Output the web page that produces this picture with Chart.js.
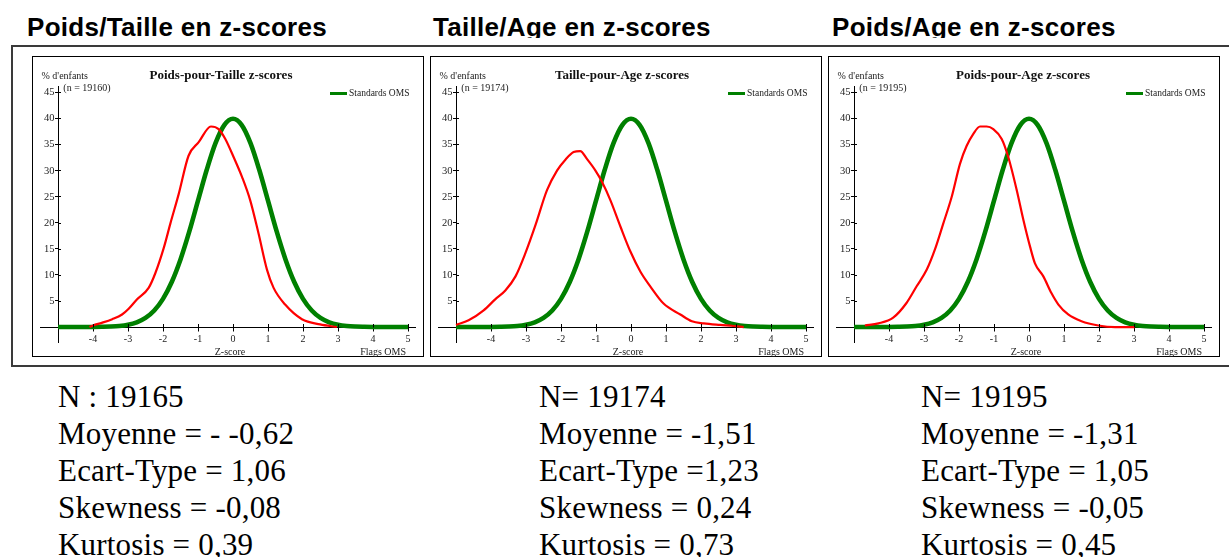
<!DOCTYPE html>
<html lang="fr">
<head>
<meta charset="utf-8">
<script src="https://cdn.jsdelivr.net/npm/chart.js@4.4.1/dist/chart.umd.min.js"></script>
<style>
  html, body { margin: 0; padding: 0; background: #fff; }
  body { width: 1229px; height: 557px; position: relative; overflow: hidden; }
  .hdr-clip { position: absolute; left: 0; top: 0; width: 1229px; height: 38px; overflow: hidden; }
  .hdr { position: absolute; top: 12px; font: bold 26px/30px "Liberation Sans", Arial, sans-serif; letter-spacing: 0.3px; color: #000; white-space: nowrap; }
  .frame { position: absolute; left: 11px; top: 45px; width: 1240px; height: 322px; border: 2px solid #3a3a3a; box-sizing: border-box; }
  .panel { position: absolute; top: 56px; width: 392px; height: 301px; border: 1px solid #000; box-sizing: border-box; background: #fff; }
  .panel canvas { position: absolute; left: 0; top: 0; }
  .lbl { position: absolute; font-family: "Liberation Serif", "Times New Roman", serif; color: #222; white-space: nowrap; line-height: 1; }
  .ttl { font-weight: bold; font-size: 13px; color: #111; transform: translate(-50%, -50%); }
  .sm { font-size: 10px; transform: translateY(-50%); }
  .leg { font-size: 9.5px; }
  .legline { position: absolute; height: 3px; width: 17px; background: #008000; }
  .stats { position: absolute; top: 378px; font: 31px/37px "Liberation Serif", "Times New Roman", serif; letter-spacing: 0.2px; color: #000; white-space: nowrap; }
</style>
</head>
<body>
<div class="hdr-clip" id="hdrs"></div>
<div class="frame"></div>
<div id="panels"></div>
<div id="statsBox"></div>
<script>
// ---------------- DATA ----------------
const headers = ["Poids/Taille en z-scores", "Taille/Age en z-scores", "Poids/Age en z-scores"];
const chartTitles = ["Poids-pour-Taille z-scores", "Taille-pour-Age z-scores", "Poids-pour-Age z-scores"];
const sampleLabels = ["(n = 19160)", "(n = 19174)", "(n = 19195)"];
const yAxisCaption = "% d'enfants";
const xAxisCaption = "Z-score";
const flagsCaption = "Flags OMS";
const standardLabel = "Standards OMS";

const xTickValues = [-4, -3, -2, -1, 0, 1, 2, 3, 4, 5];
const yTickValues = [5, 10, 15, 20, 25, 30, 35, 40, 45];

// WHO standard curve (% of children)
const stdX = [-5, -4.75, -4.5, -4.25, -4, -3.75, -3.5, -3.25, -3, -2.75, -2.5, -2.25, -2, -1.75, -1.5, -1.25, -1, -0.75, -0.5, -0.25,
              0, 0.25, 0.5, 0.75, 1, 1.25, 1.5, 1.75, 2, 2.25, 2.5, 2.75, 3, 3.25, 3.5, 3.75, 4, 4.25, 4.5, 4.75, 5];
const stdY = [0, 0, 0, 0, 0.01, 0.04, 0.09, 0.2, 0.44, 0.91, 1.75, 3.17, 5.4, 8.63, 12.95, 18.26, 24.2, 30.11, 35.21, 38.67,
              39.89, 38.67, 35.21, 30.11, 24.2, 18.26, 12.95, 8.63, 5.4, 3.17, 1.75, 0.91, 0.44, 0.2, 0.09, 0.04, 0.01, 0, 0, 0, 0];

// Observed distributions
const poidsTailleX = [-4.1, -4.0, -3.75, -3.45, -3.17, -2.98, -2.74, -2.41, -2.22, -1.98, -1.79, -1.55, -1.27, -0.98, -0.63, -0.41, -0.22,
                      0.02, 0.26, 0.49, 0.73, 0.97, 1.16, 1.49, 1.97, 2.49, 2.97];
const poidsTailleY = [0, 0.3, 0.8, 1.5, 2.4, 3.5, 5.3, 7.5, 10.3, 15.1, 19.8, 25.5, 32.8, 35.4, 38.4, 37.9, 36.0,
                      32.5, 28.7, 24.3, 17.9, 11.0, 7.5, 4.3, 1.5, 0.5, 0];

const tailleAgeX = [-5.0, -4.64, -4.21, -3.88, -3.59, -3.30, -3.02, -2.73, -2.40, -2.11, -1.88, -1.64, -1.45, -1.26, -1.02, -0.83, -0.59,
                    -0.30, -0.02, 0.27, 0.55, 0.93, 1.41, 1.74, 2.08, 2.55, 2.93, 3.22];
const tailleAgeY = [0.4, 1.3, 3.2, 5.3, 7.0, 9.7, 14.1, 19.5, 26.2, 30.0, 32.0, 33.5, 33.7, 32.2, 30.0, 27.8, 24.3,
                    19.2, 14.5, 10.6, 7.8, 4.5, 2.4, 1.1, 0.7, 0.4, 0.2, 0];

const poidsAgeX = [-4.69, -4.30, -3.88, -3.50, -3.21, -2.92, -2.69, -2.45, -2.21, -1.97, -1.78, -1.59, -1.40, -1.21, -1.02, -0.78, -0.59,
                   -0.35, -0.16, 0.03, 0.17, 0.41, 0.64, 0.84, 1.12, 1.50, 1.98, 2.46, 3.03];
const poidsAgeY = [0.3, 0.7, 1.8, 4.6, 7.8, 11.0, 14.8, 19.8, 24.9, 31.3, 34.7, 37.0, 38.4, 38.4, 37.9, 36.0, 32.5,
                   26.2, 20.5, 15.4, 12.2, 9.7, 6.5, 4.3, 2.4, 1.1, 0.3, 0, 0];

const statsCol1 = ["N : 19165", "Moyenne = - -0,62", "Ecart-Type = 1,06", "Skewness = -0,08", "Kurtosis = 0,39"];
const statsCol2 = ["N= 19174", "Moyenne = -1,51", "Ecart-Type =1,23", "Skewness = 0,24", "Kurtosis = 0,73"];
const statsCol3 = ["N= 19195", "Moyenne = -1,31", "Ecart-Type = 1,05", "Skewness = -0,05", "Kurtosis = 0,45"];

// ---------------- LAYOUT ----------------
const observedX = [poidsTailleX, tailleAgeX, poidsAgeX];
const observedY = [poidsTailleY, tailleAgeY, poidsAgeY];
const statsCols = [statsCol1, statsCol2, statsCol3];
const headerLeft = [27, 433, 832];
const panelLeft = [32, 430, 828];
const titleCenter = [188, 191, 194];
const statsLeft = [58, 539, 921];

const pairs = (xs, ys) => xs.map((x, i) => ({ x: x, y: ys[i] }));
const SERIF = "'Liberation Serif', 'Times New Roman', serif";

// tick marks crossing the axes + y tick labels left of the axis drawn at x = -5
const crossTicks = {
  id: 'crossTicks',
  afterDraw(chart) {
    const { ctx, scales: { x, y } } = chart;
    const y0 = Math.round(y.getPixelForValue(0)) + 0.5;
    const xa = Math.round(x.getPixelForValue(-5)) + 0.5;
    ctx.save();
    ctx.strokeStyle = '#000';
    ctx.lineWidth = 1;
    ctx.beginPath();
    x.ticks.forEach(t => {
      const px = Math.round(x.getPixelForValue(t.value)) + 0.5;
      ctx.moveTo(px, y0 - 3.5); ctx.lineTo(px, y0);
    });
    y.ticks.forEach(t => {
      const py = Math.round(y.getPixelForValue(t.value)) + 0.5;
      ctx.moveTo(xa, py); ctx.lineTo(xa + 2.5, py);
    });
    ctx.stroke();
    ctx.fillStyle = '#222';
    ctx.font = '10.5px ' + SERIF;
    ctx.textAlign = 'right';
    ctx.textBaseline = 'middle';
    y.ticks.forEach(t => {
      ctx.fillText(String(t.value), xa - 4, y.getPixelForValue(t.value) + 0.5);
    });
    ctx.restore();
  }
};

const hdrs = document.getElementById('hdrs');
headers.forEach((h, i) => {
  const d = document.createElement('div');
  d.className = 'hdr'; d.style.left = headerLeft[i] + 'px'; d.textContent = h;
  hdrs.appendChild(d);
});

const panels = document.getElementById('panels');
chartTitles.forEach((t, i) => {
  const p = document.createElement('div');
  p.className = 'panel';
  p.style.left = panelLeft[i] + 'px';
  const cv = document.createElement('canvas');
  cv.width = 390; cv.height = 299;
  cv.style.width = '390px'; cv.style.height = '299px';
  p.appendChild(cv);
  const add = (cls, text, left, top) => {
    const e = document.createElement('div');
    e.className = 'lbl ' + cls; e.textContent = text;
    e.style.left = left + 'px'; e.style.top = top + 'px';
    p.appendChild(e); return e;
  };
  add('ttl', t, titleCenter[i], 17.3);
  add('sm', yAxisCaption, 8.5, 19.3);
  add('sm', sampleLabels[i], 30.3, 30.7);
  const z = add('sm', xAxisCaption, 197, 294.7); z.style.transform = 'translate(-50%, -50%)';
  const f = add('sm', flagsCaption, 0, 295); f.style.left = 'auto'; f.style.right = (392 - 375) + 'px';
  // legend
  const ll = document.createElement('div');
  ll.className = 'legline'; ll.style.left = '297px'; ll.style.top = '35px';
  p.appendChild(ll);
  add('sm leg', standardLabel, 316, 36.7);
  panels.appendChild(p);

  new Chart(cv, {
    type: 'line',
    data: {
      datasets: [
        { label: 'Observé', data: pairs(observedX[i], observedY[i]), borderColor: '#ff0000', backgroundColor: '#ff0000',
          borderWidth: 2.2, pointRadius: 0, fill: false, cubicInterpolationMode: 'monotone' },
        { label: standardLabel, data: pairs(stdX, stdY), borderColor: '#008000', backgroundColor: '#008000',
          borderWidth: 4.6, pointRadius: 0, fill: false, cubicInterpolationMode: 'monotone' }
      ]
    },
    options: {
      responsive: false, animation: false, devicePixelRatio: 1,
      layout: { padding: { left: 7.5, right: 8, top: 29.8, bottom: 13.3 } },
      scales: {
        x: {
          type: 'linear', min: -5.5, max: 5.2, position: { y: 0 },
          afterBuildTicks: s => { s.ticks = xTickValues.map(v => ({ value: v })); },
          grid: { drawOnChartArea: false, drawTicks: true, tickLength: 3.5, color: '#000' },
          border: { display: true, color: '#000', width: 1 },
          ticks: { font: { family: SERIF, size: 10 }, color: '#222', padding: 3, autoSkip: false, maxRotation: 0 }
        },
        y: {
          type: 'linear', min: -3, max: 46, position: { x: -5 },
          afterBuildTicks: s => { s.ticks = yTickValues.map(v => ({ value: v })); },
          grid: { drawOnChartArea: false, drawTicks: true, tickLength: 3, color: '#000' },
          border: { display: true, color: '#000', width: 1 },
          ticks: { display: false }
        }
      },
      plugins: {
        legend: { display: false },
        title: { display: false },
        tooltip: { enabled: false }
      }
    },
    plugins: [crossTicks]
  });
});

const sb = document.getElementById('statsBox');
statsCols.forEach((col, i) => {
  const d = document.createElement('div');
  d.className = 'stats'; d.style.left = statsLeft[i] + 'px';
  d.innerHTML = col.map(s => '<div>' + s + '</div>').join('');
  sb.appendChild(d);
});
</script>
</body>
</html>
